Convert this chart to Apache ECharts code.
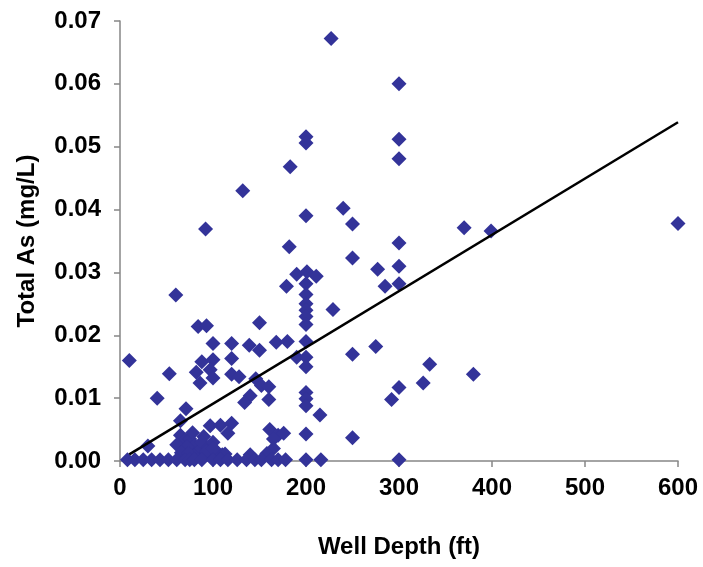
<!DOCTYPE html>
<html>
<head>
<meta charset="utf-8">
<script src="https://cdn.jsdelivr.net/npm/echarts@6/dist/echarts.min.js"></script>
<style>
  html, body { margin: 0; padding: 0; background: #ffffff; }
  #chart { width: 703px; height: 567px; }
</style>
</head>
<body>
<div id="chart"></div>
<script>
// Well depth (ft) and total arsenic (mg/L) for each sampled well
const depthFt = [
  227, 300, 300, 300, 200, 200, 183, 132, 240, 200, 250, 92, 370, 399, 600,
  182, 300, 250, 300, 277, 201, 190, 211,
  285, 300, 179, 200, 60, 200, 200, 200, 200, 229, 200, 84, 93, 150,
  100, 120, 139, 150, 168, 180, 200, 275, 250, 10, 88, 100, 120, 190, 200, 200, 333,
  53, 82, 97, 100, 86, 120, 128, 146, 152, 160, 380, 326, 300,
  140, 134, 160, 40, 200, 200, 200, 292,
  71, 215, 65, 97, 108, 120, 116, 90, 161, 170, 176, 200, 250, 65, 70, 61, 30, 165, 165,
  75, 80, 85, 72, 66, 78, 88, 95, 100, 104, 92, 80, 110,
  74, 93, 100, 113, 140, 158,
  8, 16, 25, 34, 43, 52, 61, 70, 75, 80, 88, 100, 108, 116, 126, 136, 145, 152, 163, 170, 178, 200, 216, 300
];
const arsenicMgL = [
  0.0672, 0.0600, 0.0512, 0.0481, 0.0516, 0.0506, 0.0468, 0.0430, 0.0402, 0.0390, 0.0377, 0.0369, 0.0371, 0.0366, 0.0378,
  0.0341, 0.0347, 0.0323, 0.0310, 0.0305, 0.0301, 0.0297, 0.0294,
  0.0278, 0.0282, 0.0278, 0.0282, 0.0264, 0.0265, 0.0250, 0.0240, 0.0230, 0.0241, 0.0217, 0.0214, 0.0215, 0.0220,
  0.0187, 0.0187, 0.0184, 0.0176, 0.0189, 0.0190, 0.0190, 0.0182, 0.0170, 0.0160, 0.0158, 0.0161, 0.0163, 0.0165, 0.0165, 0.0150, 0.0154,
  0.0139, 0.0141, 0.0145, 0.0132, 0.0124, 0.0138, 0.0134, 0.0131, 0.0120, 0.0118, 0.0138, 0.0124, 0.0117,
  0.0104, 0.0093, 0.0098, 0.0100, 0.0109, 0.0099, 0.0088, 0.0098,
  0.0083, 0.0073, 0.0064, 0.0056, 0.0057, 0.0060, 0.0044, 0.0039, 0.0050, 0.0041, 0.0044, 0.0043, 0.0037, 0.0041, 0.0033, 0.0026, 0.0024, 0.0035, 0.0020,
  0.0035, 0.0025, 0.0016, 0.0022, 0.0013, 0.0045, 0.0030, 0.0022, 0.0030, 0.0015, 0.0010, 0.0008, 0.0010,
  0.0012, 0.0015, 0.0020, 0.0011, 0.0010, 0.0012,
  0.0002, 0.0002, 0.0002, 0.0002, 0.0002, 0.0002, 0.0002, 0.0002, 0.0002, 0.0002, 0.0002, 0.0002,
  0.0002, 0.0002, 0.0002, 0.0002, 0.0002, 0.0002, 0.0002, 0.0002, 0.0002, 0.0002, 0.0002, 0.0002
];

// Linear trend line end points
const trendDepth = [10, 600];
const trendAs = [0.00106, 0.0539];

// Axis tick labels
const xTickLabels = ['0', '100', '200', '300', '400', '500', '600'];
const yTickLabels = ['0.00', '0.01', '0.02', '0.03', '0.04', '0.05', '0.06', '0.07'];

const FONT = "'Liberation Sans', Arial, Helvetica, sans-serif";
const axisGray = '#868686';

const chart = echarts.init(document.getElementById('chart'), null, { renderer: 'canvas' });

chart.setOption({
  backgroundColor: '#ffffff',
  animation: false,
  grid: { left: 120, right: 25, top: 21, bottom: 106, containLabel: false },
  xAxis: {
    type: 'value',
    min: 0, max: 600, interval: 100,
    name: 'Well Depth (ft)',
    nameLocation: 'middle',
    nameGap: 74,
    nameTextStyle: { fontFamily: FONT, fontWeight: 'bold', fontSize: 24, color: '#000' },
    axisLine: { show: true, onZero: false, lineStyle: { color: axisGray, width: 1.5 } },
    axisTick: { show: true, inside: false, length: 6, lineStyle: { color: axisGray, width: 1.5 } },
    axisLabel: {
      margin: 15,
      fontFamily: FONT, fontWeight: 'bold', fontSize: 24, color: '#000',
      formatter: (v) => xTickLabels[Math.round(v / 100)]
    },
    splitLine: { show: false }
  },
  yAxis: {
    type: 'value',
    min: 0, max: 0.07, interval: 0.01,
    name: 'Total As (mg/L)',
    nameLocation: 'middle',
    nameGap: 81,
    nameRotate: 90,
    nameTextStyle: { fontFamily: FONT, fontWeight: 'bold', fontSize: 24, color: '#000' },
    axisLine: { show: true, onZero: false, lineStyle: { color: axisGray, width: 1.5 } },
    axisTick: { show: true, inside: false, length: 6, lineStyle: { color: axisGray, width: 1.5 } },
    axisLabel: {
      margin: 19,
      fontFamily: FONT, fontWeight: 'bold', fontSize: 24, color: '#000',
      formatter: (v) => yTickLabels[Math.round(v * 100)]
    },
    splitLine: { show: false }
  },
  series: [
    {
      name: 'Wells',
      type: 'scatter',
      symbol: 'diamond',
      symbolSize: 15,
      itemStyle: { color: '#333399', opacity: 1 },
      data: depthFt.map((d, i) => [d, arsenicMgL[i]]),
      z: 2
    },
    {
      name: 'Linear trend',
      type: 'line',
      data: trendDepth.map((d, i) => [d, trendAs[i]]),
      symbol: 'none',
      lineStyle: { color: '#000000', width: 2.5 },
      z: 3
    }
  ]
});
</script>
</body>
</html>
